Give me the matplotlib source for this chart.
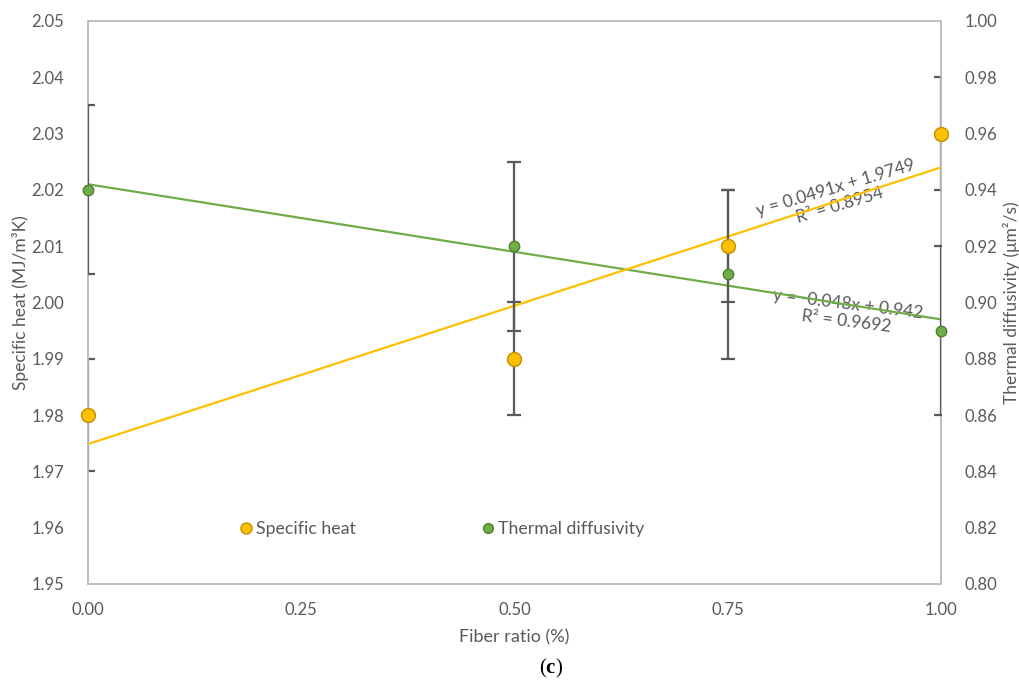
import matplotlib as mpl
import matplotlib.pyplot as plt
import numpy as np

# data
fiber = [0.0, 0.50, 0.75, 1.00]
spec_heat = [1.98, 1.99, 2.01, 2.03]
spec_err = [0.01, 0.01, 0.01, 0.01]
diffus = [0.94, 0.92, 0.91, 0.89]
diffus_err = [0.03, 0.03, 0.03, 0.03]
xticks = [0.0, 0.25, 0.5, 0.75, 1.0]

plt.rcParams['font.family'] = ['Lato', 'DejaVu Sans']
plt.rcParams['mathtext.fontset'] = 'custom'
plt.rcParams['mathtext.rm'] = 'Liberation Serif'
plt.rcParams['mathtext.bf'] = 'Liberation Serif:bold'

gold = '#FFC000'
gold_edge = '#C09000'
green = '#70AD47'
green_edge = '#4E7F31'
err_col = '#595959'
txt = '#595959'
frame = '#BFBFBF'

fig = plt.figure(figsize=(10.2, 6.84), dpi=100)
ax = fig.add_axes([0.0863, 0.1462, 0.8362, 0.8231])
ax2 = ax.twinx()
ax.set_xlim(0, 1)
ax.set_ylim(1.95, 2.05)
ax2.set_ylim(0.80, 1.00)

# trendlines (least squares, as Excel does)
xs = np.array([0.0, 1.0])
p1 = np.polyfit(fiber, spec_heat, 1)
p2 = np.polyfit(fiber, diffus, 1)
ax2.plot(xs, np.polyval(p2, xs), color=green, lw=1.6, zorder=2)
ax2.plot(xs, np.polyval(p1, xs), color=gold, lw=1.6, zorder=2.1,
         transform=ax.transData)

ax.errorbar(fiber, spec_heat, yerr=spec_err, fmt='none', ecolor=err_col,
            elinewidth=1.6, capsize=5, capthick=1.6, zorder=3)
ax2.errorbar(fiber, diffus, yerr=diffus_err, fmt='none', ecolor=err_col,
             elinewidth=1.6, capsize=5, capthick=1.6, zorder=3)

# all markers on the top axes so they sit above every error bar
h1, = ax2.plot(fiber, spec_heat, 'o', ms=10, mfc=gold, mec=gold_edge, mew=1.0,
               zorder=4, clip_on=False, label='Specific heat',
               transform=ax.transData)
h2, = ax2.plot(fiber, diffus, 'o', ms=7.5, mfc=green, mec=green_edge, mew=1.0,
               zorder=4, clip_on=False, label='Thermal diffusivity')

ax.set_xticks(xticks)
ax.set_yticks(np.arange(1.95, 2.0501, 0.01))
ax2.set_yticks(np.arange(0.80, 1.0001, 0.02))
ax.xaxis.set_major_formatter(mpl.ticker.FormatStrFormatter('%.2f'))
ax.yaxis.set_major_formatter(mpl.ticker.FormatStrFormatter('%.2f'))
ax2.yaxis.set_major_formatter(mpl.ticker.FormatStrFormatter('%.2f'))
ax.set_ylim(1.95, 2.05)
ax2.set_ylim(0.80, 1.00)

for a in (ax, ax2):
    for s in a.spines.values():
        s.set_color(frame)
        s.set_linewidth(1.2)
    a.tick_params(length=0, labelsize=12, labelcolor=txt)
ax.tick_params(axis='y', pad=17)
ax.tick_params(axis='x', pad=13)
ax2.tick_params(axis='y', pad=17)

ax.set_xlabel('Fiber ratio (%)', fontsize=13, color=txt, labelpad=8)
ax.set_ylabel('Specific heat (MJ/m³K)', fontsize=12.5, color=txt, labelpad=2)
ax2.set_ylabel('Thermal diffusivity (μm²/s)', fontsize=12.5, color=txt,
               labelpad=4)

ax.text(0.879, 2.0188, 'y = 0.0491x + 1.9749\nR² = 0.8954', rotation=16.5,
        ha='center', va='center', fontsize=12.5, color=txt,
        rotation_mode='anchor', linespacing=1.1, zorder=5)
ax.text(0.890, 1.9982, 'y = -0.048x + 0.942\nR² = 0.9692', rotation=-7,
        ha='center', va='center', fontsize=12.5, color=txt,
        rotation_mode='anchor', linespacing=1.1, zorder=5)

leg = ax2.legend([h1, h2], ['Specific heat', 'Thermal diffusivity'],
                 loc='center left', bbox_to_anchor=(0.177, 0.0977),
                 ncol=2, frameon=False, fontsize=12.8, columnspacing=7.0,
                 handlelength=0.8, handletextpad=0.17, borderpad=0,
                 borderaxespad=0)
for t in leg.get_texts():
    t.set_color(txt)
leg.legend_handles[0].set_markersize(8)
leg.legend_handles[1].set_markersize(7)

fig.text(0.54, 0.023, r'($\mathbf{c}$)', ha='center', va='center',
         fontsize=15, family='Liberation Serif', color='black')

fig.savefig('out.png', dpi=100)
